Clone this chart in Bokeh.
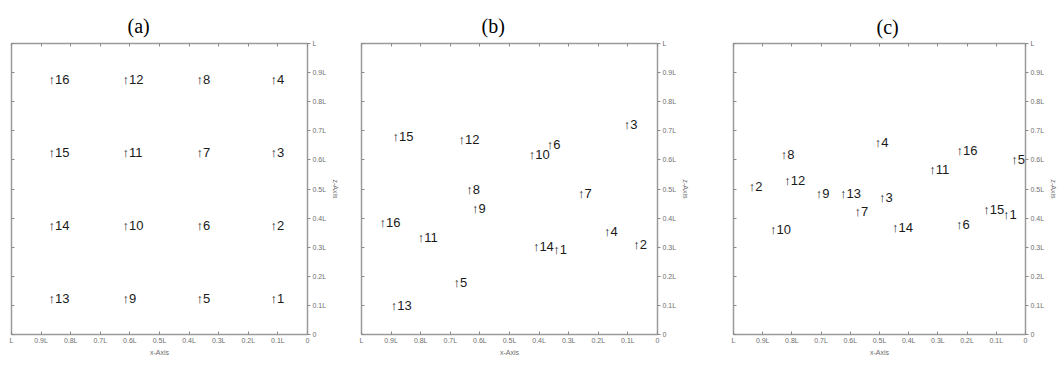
from bokeh.plotting import figure
from bokeh.layouts import row
from bokeh.models import Range1d, LinearAxis, FixedTicker, ColumnDataSource
from bokeh.core.properties import value
from bokeh.embed import file_html
from bokeh.resources import INLINE

ids = list(range(1, 17))
labels = ["\u2191" + str(i) for i in ids]

# panel (a): regular grid
a_x = [0.125] * 4 + [0.375] * 4 + [0.625] * 4 + [0.875] * 4
a_z = [0.125, 0.375, 0.625, 0.875] * 4

# panel (b)
b_x = [0.352, 0.082, 0.114, 0.181, 0.689, 0.374, 0.269, 0.646,
       0.627, 0.435, 0.810, 0.672, 0.901, 0.421, 0.895, 0.939]
b_z = [0.293, 0.310, 0.722, 0.355, 0.178, 0.652, 0.485, 0.499,
       0.432, 0.618, 0.333, 0.671, 0.099, 0.304, 0.682, 0.386]

# panel (c)
c_x = [0.077, 0.948, 0.502, 0.516, 0.049, 0.238, 0.586, 0.838,
       0.718, 0.875, 0.330, 0.826, 0.635, 0.457, 0.145, 0.236]
c_z = [0.411, 0.507, 0.472, 0.660, 0.602, 0.378, 0.423, 0.617,
       0.483, 0.361, 0.567, 0.530, 0.483, 0.368, 0.430, 0.631]

ticks = [i / 10 for i in range(11)]
tick_labels = ["0"] + ["0.%dL" % i for i in range(1, 10)] + ["L"]

TICK_COL = "#6e6e6e"
FONT = "Liberation Sans"


def panel(title, xs, zs, width, height, left, right, top, bottom, title_offset, title_standoff):
    p = figure(width=width, height=height, output_backend="svg", toolbar_location=None,
               x_range=Range1d(1, 0), y_range=Range1d(0, 1),
               x_axis_location=None, y_axis_location=None,
               min_border_left=left, min_border_right=right,
               min_border_top=top, min_border_bottom=bottom)
    p.xgrid.visible = False
    p.ygrid.visible = False
    p.outline_line_color = "#9a9a9a"
    p.outline_line_width = 1.5
    p.background_fill_color = "white"
    p.border_fill_color = "white"

    overrides = {t: s for t, s in zip(ticks, tick_labels)}
    blanks = {t: "" for t in ticks}

    def style(ax, labels_on, tin, tout):
        ax.ticker = FixedTicker(ticks=ticks)
        ax.minor_tick_line_color = None
        ax.axis_line_color = None
        ax.major_tick_line_color = "#8a8a8a"
        ax.major_tick_in = tin
        ax.major_tick_out = tout
        if labels_on:
            ax.major_label_overrides = overrides
            ax.major_label_text_font = FONT
            ax.major_label_text_font_size = "7px"
            ax.major_label_text_color = TICK_COL
            ax.major_label_standoff = 2
            ax.axis_label_text_font = FONT
            ax.axis_label_text_font_size = "7px"
            ax.axis_label_text_font_style = "normal"
            ax.axis_label_text_color = TICK_COL
            ax.axis_label_standoff = 2
        else:
            ax.major_label_overrides = blanks
            ax.major_label_text_font_size = "1px"
            ax.major_label_standoff = 0

    bx = LinearAxis(axis_label="x-Axis")
    style(bx, True, 3, 0)
    p.add_layout(bx, "below")
    tx = LinearAxis()
    style(tx, False, 3, 0)
    p.add_layout(tx, "above")
    ly = LinearAxis()
    style(ly, False, 3, 0)
    p.add_layout(ly, "left")
    ry = LinearAxis(axis_label="z-Axis")
    style(ry, True, 0, 3)
    ry.axis_label_standoff = 3
    p.add_layout(ry, "right")

    p.title.text = title
    p.title.text_font = "Liberation Serif"
    p.title.text_font_size = "20px"
    p.title.text_font_style = "normal"
    p.title.text_color = "black"
    p.title.align = "left"
    p.title.offset = title_offset
    p.title.standoff = title_standoff

    src = ColumnDataSource(dict(x=xs, z=zs, t=labels))
    p.text(x="x", y="z", text="t", source=src, text_align="left", text_baseline="middle",
           text_font=value(FONT), text_font_size="13px", text_color="#1a1a1a")
    return p


pa = panel("(a)", a_x, a_z, 350, 366, 11, 43, 43, 32, 116, 14)
pb = panel("(b)", b_x, b_z, 368, 366, 11, 61, 43, 28, 120, 14)
pc = panel("(c)", c_x, c_z, 342, 366, 15, 31, 40, 22, 143, 11)

layout = row(pa, pb, pc, spacing=0)
open("out.html", "w").write(file_html(layout, INLINE))
